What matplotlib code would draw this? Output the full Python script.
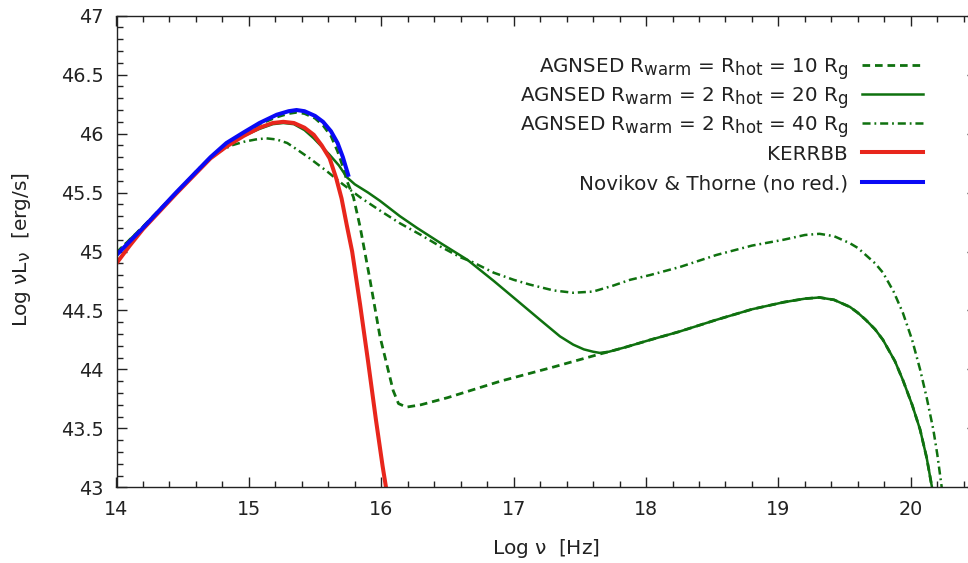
import matplotlib
matplotlib.use("Agg")
import matplotlib.pyplot as plt
import matplotlib._mathtext as mathtext_core
from matplotlib.lines import Line2D
from matplotlib.ticker import MultipleLocator

plt.rcParams['font.family'] = ['DejaVu Sans']
plt.rcParams['mathtext.fontset'] = 'dejavusans'
plt.rcParams['lines.scale_dashes'] = False
# larger sub/superscripts in mathtext labels
mathtext_core.SHRINK_FACTOR = 0.84

# ---- SED curves: log nu [Hz] vs log nuL_nu [erg/s] ----
nt_x = [14.00, 14.20, 14.45, 14.71, 14.83, 14.96, 15.08, 15.21, 15.30, 15.36,
        15.42, 15.50, 15.56, 15.62, 15.67, 15.71, 15.75]
nt_y = [44.97, 45.20, 45.50, 45.80, 45.92, 46.01, 46.09, 46.16, 46.19, 46.20,
        46.19, 46.15, 46.10, 46.02, 45.92, 45.80, 45.65]

kerr_x = [14.00, 14.10, 14.20, 14.45, 14.71, 14.83, 14.96, 15.08, 15.18, 15.26,
          15.34, 15.42, 15.49, 15.55, 15.61, 15.66, 15.70, 15.74, 15.78, 15.84,
          15.90, 15.96, 16.01, 16.05]
kerr_y = [44.90, 45.05, 45.19, 45.49, 45.79, 45.89, 45.98, 46.05, 46.09, 46.10,
          46.09, 46.05, 45.99, 45.90, 45.79, 45.62, 45.45, 45.22, 45.00, 44.55,
          44.07, 43.57, 43.18, 42.90]

ag10_x = [14.00, 14.20, 14.45, 14.71, 14.83, 14.96, 15.08, 15.21, 15.30, 15.36,
          15.42, 15.50, 15.56, 15.62, 15.67, 15.71, 15.74, 15.79, 15.84, 15.91,
          15.99, 16.04, 16.09, 16.13, 16.19, 16.30, 16.50, 16.90, 17.30, 17.65,
          17.72, 17.85, 18.03, 18.25, 18.53, 18.80, 19.04, 19.20, 19.31, 19.42,
          19.54, 19.60, 19.66, 19.73, 19.79, 19.88, 19.94, 20.01, 20.07, 20.12,
          20.16, 20.18]
ag10_y = [44.99, 45.21, 45.50, 45.80, 45.91, 46.00, 46.08, 46.14, 46.17, 46.18,
          46.17, 46.13, 46.07, 45.98, 45.85, 45.72, 45.60, 45.46, 45.21, 44.79,
          44.28, 44.05, 43.82, 43.71, 43.68, 43.70, 43.76, 43.90, 44.02, 44.13,
          44.15, 44.19, 44.25, 44.32, 44.42, 44.51, 44.57, 44.60, 44.61, 44.59,
          44.53, 44.48, 44.42, 44.34, 44.25, 44.07, 43.91, 43.70, 43.49, 43.25,
          43.00, 42.85]

ag20_x = [14.00, 14.20, 14.45, 14.71, 14.83, 14.96, 15.08, 15.18, 15.26, 15.34,
          15.42, 15.49, 15.55, 15.61, 15.68, 15.74, 15.80, 15.90, 15.99, 16.14,
          16.27, 16.45, 16.65, 16.85, 17.02, 17.20, 17.35, 17.45, 17.53, 17.60,
          17.65, 17.72, 17.85, 18.03, 18.25, 18.53, 18.80, 19.04, 19.20, 19.31,
          19.42, 19.54, 19.60, 19.66, 19.73, 19.79, 19.88, 19.94, 20.01, 20.07,
          20.12, 20.16, 20.18]
ag20_y = [44.97, 45.20, 45.49, 45.79, 45.90, 45.98, 46.04, 46.08, 46.09, 46.08,
          46.03, 45.96, 45.89, 45.82, 45.73, 45.63, 45.57, 45.50, 45.43, 45.30,
          45.20, 45.07, 44.93, 44.75, 44.59, 44.42, 44.28, 44.21, 44.17, 44.15,
          44.14, 44.15, 44.19, 44.25, 44.32, 44.42, 44.51, 44.57, 44.60, 44.61,
          44.59, 44.53, 44.48, 44.42, 44.34, 44.25, 44.07, 43.91, 43.70, 43.49,
          43.25, 43.00, 42.85]

ag40_x = [14.00, 14.20, 14.45, 14.60, 14.71, 14.78, 14.87, 14.96, 15.05, 15.13,
          15.21, 15.29, 15.37, 15.46, 15.59, 15.71, 15.84, 16.00, 16.14, 16.30,
          16.45, 16.60, 16.69, 16.85, 17.00, 17.12, 17.30, 17.45, 17.60, 17.75,
          17.88, 18.03, 18.26, 18.53, 18.80, 19.04, 19.20, 19.31, 19.42, 19.54,
          19.60, 19.66, 19.73, 19.79, 19.87, 19.94, 20.01, 20.07, 20.12, 20.17,
          20.20, 20.23, 20.25]
ag40_y = [44.99, 45.21, 45.49, 45.68, 45.80, 45.85, 45.90, 45.93, 45.95, 45.96,
          45.95, 45.92, 45.86, 45.79, 45.68, 45.57, 45.46, 45.34, 45.24, 45.14,
          45.04, 44.95, 44.91, 44.82, 44.76, 44.72, 44.67, 44.65, 44.66, 44.71,
          44.76, 44.80, 44.87, 44.97, 45.05, 45.10, 45.14, 45.15, 45.13, 45.07,
          45.03, 44.97, 44.90, 44.82, 44.66, 44.48, 44.25, 44.00, 43.76, 43.49,
          43.28, 43.03, 42.85]

labels = [
    r"AGNSED R$_{\mathrm{warm}}$ = R$_{\mathrm{hot}}$ = 10 R$_{\mathrm{g}}$",
    r"AGNSED R$_{\mathrm{warm}}$ = 2 R$_{\mathrm{hot}}$ = 20 R$_{\mathrm{g}}$",
    r"AGNSED R$_{\mathrm{warm}}$ = 2 R$_{\mathrm{hot}}$ = 40 R$_{\mathrm{g}}$",
    "KERRBB",
    "Novikov & Thorne (no red.)",
]

GREEN = '#0f710f'
RED = '#e8261c'
BLUE = '#0a0af5'
INK = '#222222'

styles = [
    dict(color=GREEN, lw=2.0, dashes=(5.5, 3.5)),
    dict(color=GREEN, lw=1.8, linestyle='-'),
    dict(color=GREEN, lw=1.8, dashes=(5.8, 2.8, 1.3, 2.8)),
    dict(color=RED, lw=2.9, linestyle='-'),
    dict(color=BLUE, lw=2.9, linestyle='-'),
]

W, H = 968, 563
fig = plt.figure(figsize=(W / 100, H / 100), dpi=100)

ax_l, ax_r, ax_t, ax_b = 116.5, 977.0, 15.7, 487.3
ax = fig.add_axes([ax_l / W, 1 - ax_b / H, (ax_r - ax_l) / W, (ax_b - ax_t) / H])

ax.plot(ag10_x, ag10_y, **styles[0])
ax.plot(ag20_x, ag20_y, **styles[1])
ax.plot(ag40_x, ag40_y, **styles[2])
ax.plot(kerr_x, kerr_y, **styles[3])
ax.plot(nt_x, nt_y, **styles[4])

ax.set_xlim(14, 20.5)
ax.set_ylim(43, 47)
ax.xaxis.set_major_locator(MultipleLocator(1))
ax.xaxis.set_minor_locator(MultipleLocator(0.2))
ax.yaxis.set_major_locator(MultipleLocator(0.5))
ax.yaxis.set_minor_locator(MultipleLocator(0.1))
ax.yaxis.set_major_formatter(plt.FuncFormatter(lambda v, p: f"{v:g}"))

ax.tick_params(which='both', direction='in', top=True, right=True,
               width=1.0, color=INK, labelsize=13.8, labelcolor=INK)
ax.tick_params(which='major', length=7)
ax.tick_params(which='minor', length=4.2)
ax.tick_params(axis='y', which='major', pad=9.5)
ax.tick_params(axis='x', which='major', pad=9.0)
for s in ax.spines.values():
    s.set_linewidth(1.0)
    s.set_color(INK)

fig.text(546 / W, 1 - 548 / H, r"Log $\mathrm{\nu}$  [Hz]", ha='center', va='center',
         fontsize=14.5, color=INK)
fig.text(22 / W, 1 - 250 / H, r"Log $\mathrm{\nu}$L$_{\mathrm{\nu}}$  [erg/s]",
         ha='center', va='center', rotation=90, fontsize=14.5, color=INK)

# key, right-aligned text with line samples
row_y = [65, 94, 123, 152, 181.5]
for lab, st, yy in zip(labels, styles, row_y):
    fig.text(848 / W, 1 - (yy + 8) / H, lab, ha='right', va='baseline',
             fontsize=14.3, color=INK)
    fig.add_artist(Line2D([862 / W, 923 / W], [1 - yy / H, 1 - yy / H],
                          transform=fig.transFigure, **st))

fig.savefig("out.png", dpi=100)
